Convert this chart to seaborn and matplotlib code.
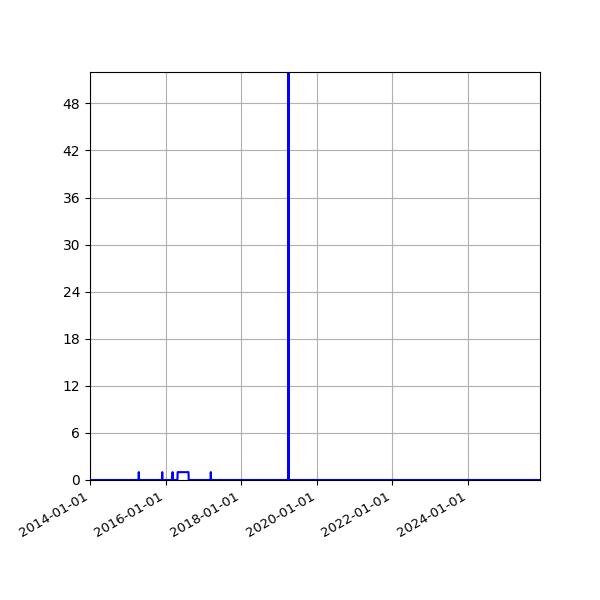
import pandas as pd
import matplotlib
matplotlib.use("Agg")
import matplotlib.pyplot as plt
import matplotlib.dates as mdates
from matplotlib.ticker import MultipleLocator
import seaborn as sns

# -----------------------------
# Data (daily counts, zero except on these days)
# -----------------------------
start_date = "2014-01-01"
end_date = "2025-11-28"

event_dates = ["2015-04-16", "2015-04-17", "2015-04-18",
               "2015-11-29", "2015-11-30",
               "2016-03-08", "2016-03-09",
               "2016-04-26", "2016-05-15", "2016-06-15", "2016-07-15", "2016-08-10",
               "2017-03-12", "2017-03-13", "2017-03-14",
               "2019-04-02", "2019-04-03"]
event_values = [1, 1, 1,
                1, 1,
                1, 1,
                1, 1, 1, 1, 1,
                1, 1, 1,
                52, 52]

days = pd.date_range(start_date, end_date, freq="D")
counts = pd.Series(event_values, index=pd.to_datetime(event_dates))
counts = counts.reindex(days, fill_value=0)
# the block in mid 2016 stays at 1 between its listed days
block = (days >= "2016-04-26") & (days <= "2016-08-10")
counts[block] = counts[block].replace(0, 1)

df = pd.DataFrame({"date": days, "count": counts.values})

# -----------------------------
# Plot
# -----------------------------
fig, ax = plt.subplots(figsize=(6, 6), dpi=100)
sns.lineplot(data=df, x="date", y="count", color="blue", linewidth=1.5, ax=ax)

ax.set_xlim(pd.Timestamp(start_date), pd.Timestamp(end_date))
ax.set_ylim(0, df["count"].max())
ax.yaxis.set_major_locator(MultipleLocator(6))
ax.xaxis.set_major_locator(mdates.YearLocator(2))
ax.xaxis.set_major_formatter(mdates.DateFormatter("%Y-%m-%d"))
ax.tick_params(axis="x", labelsize=9.5)
ax.set_xlabel("")
ax.set_ylabel("")
ax.grid(True)

fig.autofmt_xdate()
fig.subplots_adjust(left=0.15, right=0.9, top=0.88, bottom=0.2)
fig.savefig("out.png")
